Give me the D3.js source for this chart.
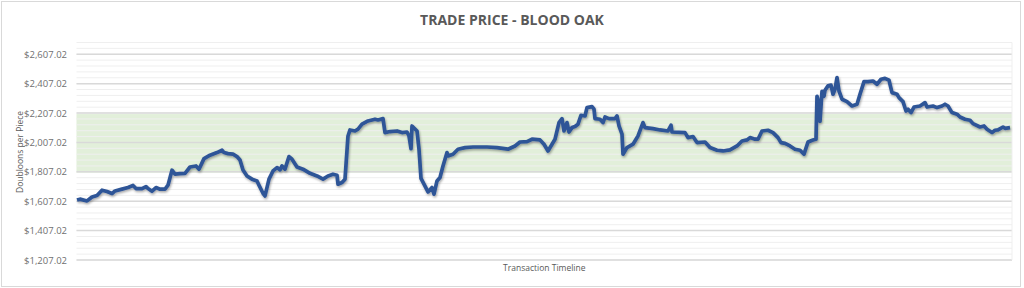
<!DOCTYPE html>
<html lang="en">
<head>
    <meta charset="UTF-8">
    <title>Trade Price - Blood Oak</title>
    <script src="https://d3js.org/d3.v7.min.js"></script>
    <style>
        html, body { margin: 0; padding: 0; background: white; }
        svg { display: block; font-family: "Open Sans", Arial, sans-serif; }
    </style>
</head>
<body>
    <svg id="chart" width="1024" height="288"></svg>

    <script>
        // transaction number along the timeline and the traded price at that point
        const txn = [0, 3, 10, 15, 20, 25, 30, 35, 38, 45, 51, 56, 59, 65, 69, 71, 75, 79, 83, 88,
            91, 95, 98, 103, 108, 113, 119, 122, 127, 133, 140, 145, 147, 151, 156, 160, 163, 166, 170, 175,
            180, 182, 186, 188, 192, 196, 200, 203, 205, 208, 212, 215, 220, 226, 233, 240, 246, 251, 256, 260,
            261, 265, 268, 271, 273, 278, 281, 285, 291, 298, 301, 306, 308, 313, 320, 325, 330, 332, 334, 335,
            340, 342, 344, 347, 351, 355, 357, 360, 363, 366, 370, 371, 376, 381, 388, 396, 410, 420, 431, 438,
            443, 450, 455, 463, 467, 471, 478, 482, 485, 487, 490, 492, 495, 498, 501, 504, 508, 510, 515, 517,
            518, 523, 526, 528, 532, 538, 540, 542, 545, 546, 550, 556, 561, 566, 568, 576, 583, 591, 594, 595,
            608, 611, 616, 620, 628, 633, 640, 646, 653, 660, 665, 670, 673, 678, 681, 685, 691, 696, 701, 704,
            708, 713, 718, 723, 727, 731, 736, 739, 740, 742, 743, 745, 747, 748, 751, 754, 756, 758, 760, 761,
            762, 765, 770, 775, 780, 783, 787, 791, 796, 800, 804, 808, 812, 815, 820, 822, 826, 829, 831, 834,
            837, 843, 848, 850, 856, 860, 865, 868, 871, 875, 880, 883, 888, 893, 896, 903, 907, 910, 915, 918,
            921, 926, 928, 933];

        const price = [1615, 1621, 1609, 1636, 1646, 1682, 1673, 1659, 1677, 1689, 1700, 1714, 1693, 1693, 1707, 1693, 1675, 1700, 1689, 1689,
            1716, 1818, 1791, 1795, 1797, 1840, 1847, 1825, 1897, 1920, 1938, 1954, 1938, 1931, 1927, 1911, 1888, 1820, 1779, 1757,
            1745, 1716, 1661, 1643, 1757, 1813, 1836, 1820, 1847, 1825, 1911, 1893, 1840, 1825, 1797, 1779, 1757, 1779, 1791, 1784,
            1723, 1734, 1757, 2051, 2092, 2085, 2097, 2131, 2153, 2165, 2160, 2169, 2074, 2081, 2085, 2074, 2078, 2051, 1965, 2119,
            2085, 1961, 1762, 1723, 1670, 1700, 1655, 1745, 1768, 1847, 1938, 1915, 1927, 1961, 1972, 1976, 1976, 1972, 1961, 1983,
            2010, 2013, 2029, 2024, 1995, 1949, 2029, 2142, 2169, 2085, 2142, 2078, 2108, 2115, 2131, 2192, 2187, 2244, 2251, 2233,
            2169, 2165, 2142, 2180, 2169, 2169, 2187, 2119, 2063, 1927, 1972, 1995, 2051, 2142, 2108, 2101, 2092, 2085, 2124, 2078,
            2074, 2040, 2047, 2006, 2010, 1972, 1954, 1949, 1956, 1983, 2017, 2024, 2040, 2029, 2029, 2085, 2090, 2074, 2040, 2006,
            2001, 1983, 1961, 1954, 1927, 2010, 2024, 2029, 2321, 2267, 2151, 2355, 2321, 2362, 2392, 2397, 2335, 2369, 2448, 2403,
            2357, 2301, 2285, 2255, 2267, 2335, 2421, 2421, 2425, 2403, 2437, 2443, 2430, 2346, 2335, 2312, 2285, 2221, 2233, 2210,
            2248, 2255, 2278, 2248, 2255, 2244, 2255, 2267, 2255, 2210, 2199, 2180, 2165, 2158, 2135, 2112, 2119, 2097, 2074, 2090,
            2092, 2112, 2103, 2108];

        const yMin = 1207.02, yMax = 2687.02;
        const majorTicks = d3.range(1207.02, 2607.03, 200);
        const minorTicks = d3.range(1207.02, 2687.03, 40);
        const targetBand = [1800, 2200];

        const svg = d3.select("#chart");
        const plotLeft = 76.5, plotRight = 1012, plotTop = 42.5, plotBottom = 260;

        const x = d3.scaleLinear().domain([0, 933]).range([plotLeft + 0.5, plotRight - 2]);
        const y = d3.scaleLinear().domain([yMin, yMax]).range([plotBottom, plotTop]);

        // chart frame
        svg.append("rect")
            .attr("x", 1.5).attr("y", 1.5)
            .attr("width", 1019).attr("height", 285)
            .attr("fill", "white")
            .attr("stroke", "#d9d9d9");

        // target band
        svg.append("rect")
            .attr("x", plotLeft)
            .attr("y", y(targetBand[1]))
            .attr("width", plotRight - plotLeft)
            .attr("height", y(targetBand[0]) - y(targetBand[1]))
            .attr("fill", "#e2efda");

        svg.selectAll("line.minor")
            .data(minorTicks)
            .enter()
            .append("line")
            .classed("minor", true)
            .attr("x1", plotLeft).attr("x2", plotRight)
            .attr("y1", d => y(d)).attr("y2", d => y(d))
            .attr("stroke", "#efefef")
            .attr("stroke-width", 1);

        svg.selectAll("line.major")
            .data(majorTicks)
            .enter()
            .append("line")
            .classed("major", true)
            .attr("x1", plotLeft).attr("x2", plotRight)
            .attr("y1", d => y(d)).attr("y2", d => y(d))
            .attr("stroke", "#d9d9d9")
            .attr("stroke-width", 1.5);

        svg.append("line")
            .attr("x1", plotRight).attr("x2", plotRight)
            .attr("y1", plotTop).attr("y2", plotBottom)
            .attr("stroke", "#efefef");

        // y axis labels
        const fmt = d3.format("$,.2f");
        svg.selectAll("text.tick")
            .data(majorTicks)
            .enter()
            .append("text")
            .classed("tick", true)
            .attr("x", 67)
            .attr("y", d => y(d) + 3.5)
            .attr("text-anchor", "end")
            .attr("fill", "#707070")
            .style("font-size", "9.5px")
            .text(d => fmt(d));

        // shadowed price line
        const defs = svg.append("defs");
        const filter = defs.append("filter").attr("id", "shadow")
            .attr("x", "-5%").attr("y", "-20%").attr("width", "110%").attr("height", "140%");
        filter.append("feDropShadow")
            .attr("dx", 0.8).attr("dy", 1.5)
            .attr("stdDeviation", 1.2)
            .attr("flood-color", "#000")
            .attr("flood-opacity", 0.35);

        const line = d3.line()
            .x((d, i) => x(txn[i]))
            .y(d => y(d));

        svg.append("path")
            .datum(price)
            .attr("d", line)
            .attr("fill", "none")
            .attr("stroke", "#2f5597")
            .attr("stroke-width", 3.7)
            .attr("stroke-linejoin", "round")
            .attr("filter", "url(#shadow)");

        // titles
        svg.append("text")
            .attr("x", 512).attr("y", 25)
            .attr("text-anchor", "middle")
            .attr("fill", "#595959")
            .style("font-size", "14px")
            .style("font-weight", "bold")
            .text("TRADE PRICE - BLOOD OAK");

        svg.append("text")
            .attr("transform", "translate(23,152) rotate(-90)")
            .attr("text-anchor", "middle")
            .attr("fill", "#595959")
            .style("font-size", "8.5px")
            .text("Doubloons per Piece");

        svg.append("text")
            .attr("x", (plotLeft + plotRight) / 2).attr("y", 271)
            .attr("text-anchor", "middle")
            .attr("fill", "#595959")
            .style("font-size", "8.5px")
            .text("Transaction Timeline");
    </script>
</body>
</html>
